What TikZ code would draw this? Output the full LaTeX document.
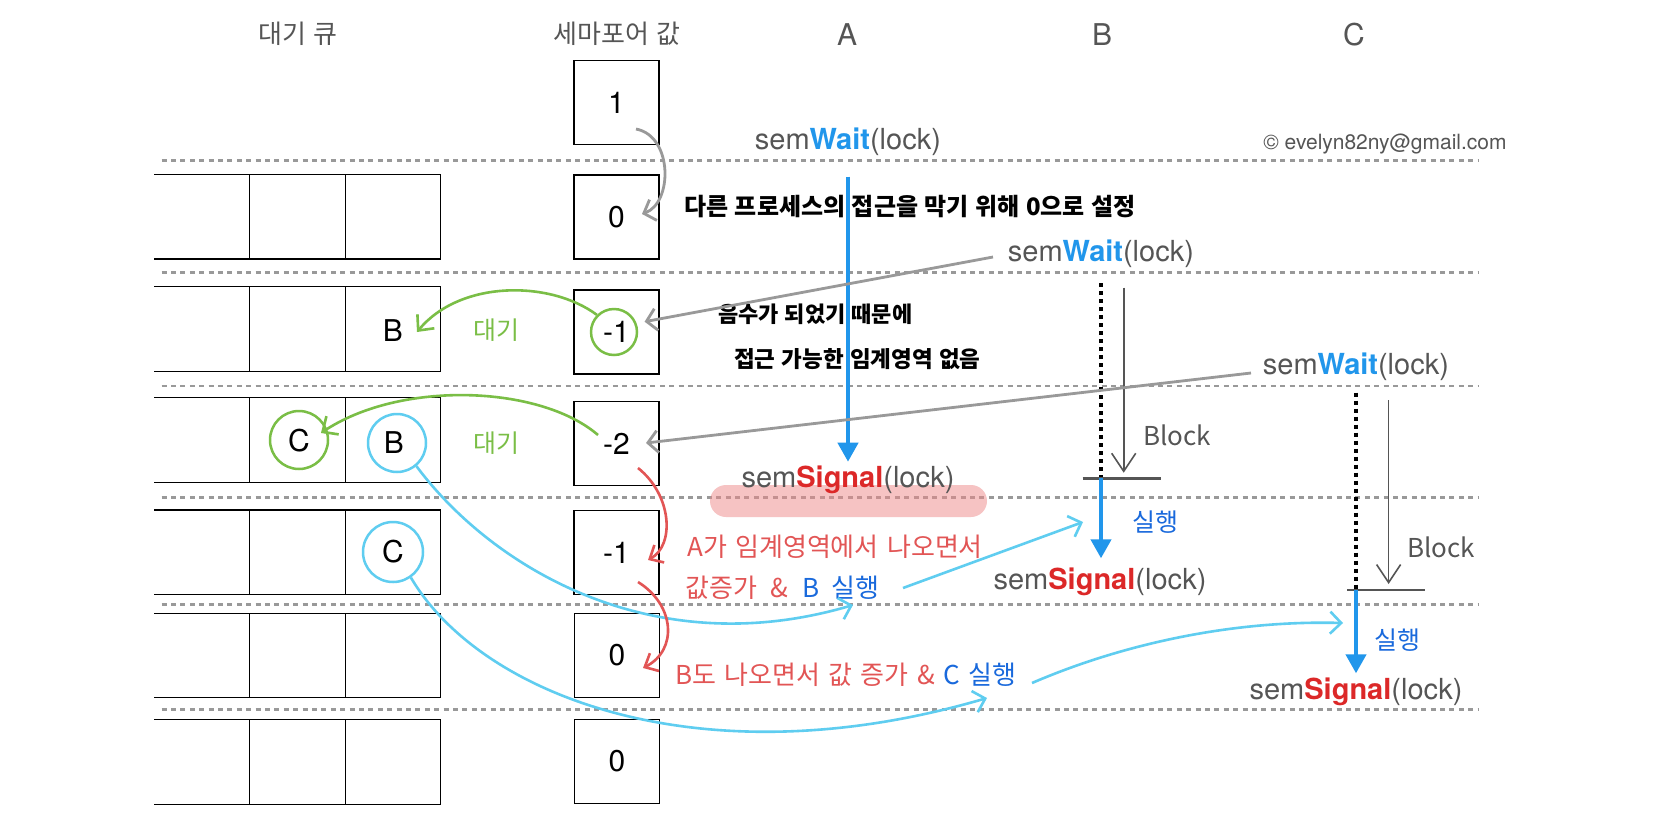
\documentclass[tikz,border=0pt]{standalone}
\usepackage{fontspec}
\setmainfont{TeX Gyre Heros}
\newfontfamily\kr{Noto Sans CJK KR}
\newfontfamily\hand[WordSpace=2.4]{Noto Sans CJK KR}
\newfontfamily\handn[WordSpace=1.2]{Noto Sans CJK KR}
\usetikzlibrary{arrows.meta}
\definecolor{tblue}{RGB}{33,150,235}
\definecolor{tred}{RGB}{220,40,40}
\definecolor{hred}{RGB}{226,85,85}
\definecolor{hblue}{RGB}{25,105,220}
\definecolor{hgreen}{RGB}{122,190,70}
\definecolor{hcyan}{RGB}{95,205,240}
\definecolor{dgray}{RGB}{153,153,153}
\definecolor{tgray}{RGB}{85,85,85}
\definecolor{pinkbg}{RGB}{239,137,137}
\begin{document}
\begin{tikzpicture}[x=1pt,y=-1pt,
  semtext/.style={inner sep=0pt, text=tgray, font=\fontsize{29}{32}\selectfont},
  sbox/.style={draw, line width=1.2pt, minimum width=85pt, minimum height=84pt, inner sep=0pt, font=\fontsize{30}{32}\selectfont},
  titletxt/.style={inner sep=0pt, text=tgray, font=\kr\fontsize{26}{28}\selectfont},
  ptitle/.style={inner sep=0pt, text=tgray, font=\fontsize{30}{32}\selectfont},
  copytxt/.style={inner sep=0pt, text=tgray, font=\fontsize{21}{24}\selectfont},
  qtext/.style={inner sep=0pt, font=\fontsize{30}{32}\selectfont},
  gcirc/.style={circle, draw=hgreen, line width=2.5pt, inner sep=0pt},
  ccirc/.style={circle, draw=hcyan, line width=2.5pt, inner sep=0pt},
  hblack/.style={inner sep=0pt, font=\handn\bfseries\fontsize{24}{26}\selectfont},
  rtxt/.style={inner sep=0pt, text=hred, font=\hand\fontsize{26}{28}\selectfont},
  gtxt/.style={inner sep=0pt, text=hgreen, font=\hand\fontsize{25}{27}\selectfont},
  runtxt/.style={inner sep=0pt, text=hblue, font=\hand\fontsize{25}{27}\selectfont},
  blocktxt/.style={inner sep=0pt, text=tgray, font=\hand\fontsize{26}{28}\selectfont},
  qline/.style={draw=black, line width=1.3pt},
  dline/.style={draw=dgray, line width=2.8pt, dash pattern=on 5pt off 4.4pt},
  dotline/.style={draw=black, line width=4pt, dash pattern=on 4pt off 4pt},
  bluearrow/.style={draw=tblue, line width=4.2pt, -{Triangle[length=19pt,width=20pt]}},
  grayarrow/.style={draw=dgray, line width=2.8pt, -{Straight Barb[length=10pt,width=22pt]}},
  blockarrow/.style={draw=tgray, line width=1.6pt, -{Straight Barb[length=18pt,width=24pt]}},
  barline/.style={draw=tgray, line width=2.8pt},
  greenarrow/.style={draw=hgreen, line width=2.6pt, -{Straight Barb[length=12pt,width=22pt]}},
  cyanarrow/.style={draw=hcyan, line width=2.6pt, -{Straight Barb[length=11pt,width=22pt]}},
  redarrow/.style={draw=hred, line width=2.6pt, -{Straight Barb[length=11pt,width=20pt]}}
]
\fill[white] (0,0) rectangle (1668,820);
\useasboundingbox (0,0) rectangle (1668,820);

% titles
\node[titletxt] (tq) at (298,34) {대기 큐};
\node[titletxt] (ts) at (617,34) {세마포어 값};
\node[ptitle] (tA) at (847,35) {A};
\node[ptitle] (tB) at (1102,35) {B};
\node[ptitle] (tC) at (1354,35) {C};
\node[copytxt] (cp) at (1385,144) {\textcopyright\ evelyn82ny@gmail.com};

% separators
\foreach \yy in {160.7,272.3,386,497.5,604.5,709.5}
  \draw[dline] (161.6,\yy) -- (1479,\yy);

% pink highlight
\fill[pinkbg, opacity=0.5, rounded corners=16pt] (710,485) rectangle (987,517);

% queue rows
\foreach \tt/\bb in {174.3/259, 286.7/371.7, 397.3/482.3, 510/594.3, 613.3/697.7, 719.3/804.3} {
  \draw[qline] (154,\tt) -- (440.6,\tt) -- (440.6,\bb) -- (154,\bb);
  \draw[qline] (249.6,\tt) -- (249.6,\bb) (345.5,\tt) -- (345.5,\bb);
}

% semaphore boxes
\node[sbox] (s1) at (616.5,102.7) {1};
\node[sbox] (s2) at (616.5,217) {0};
\node[sbox] (s3) at (616.5,332) {-1};
\node[sbox] (s4) at (616.5,443.7) {-2};
\node[sbox] (s5) at (616.5,552.5) {-1};
\node[sbox] (s6) at (617,655.4) {0};
\node[sbox] (s7) at (617,761.5) {0};

% queue letters and circles
\node[qtext] (qB3) at (393,331) {B};
\node[qtext] (qC4) at (299,441) {C};
\node[qtext] (qB4) at (394,443) {B};
\node[qtext] (qC5) at (393,552) {C};
\node[gcirc, minimum size=46pt] (gm1) at (614,332) {};
\node[gcirc, minimum size=58pt] (gC4) at (299,440) {};
\node[ccirc, minimum size=58pt] (cB4) at (397,443) {};
\node[ccirc, minimum size=60pt] (cC5) at (393,552) {};

% process A
\node[semtext] (wA) at (848,141.7) {sem\textcolor{tblue}{\bfseries Wait}(lock)};
\node[semtext] (sA) at (848,480) {sem\textcolor{tred}{\bfseries Signal}(lock)};
\coordinate (aTop) at (848,176.7);
\coordinate (aTip) at (848,461.7);
\draw[bluearrow] (aTop) -- (aTip);

% process B
\node[semtext] (wB) at (1101,253.3) {sem\textcolor{tblue}{\bfseries Wait}(lock)};
\node[semtext] (sB) at (1100,581.7) {sem\textcolor{tred}{\bfseries Signal}(lock)};
\coordinate (bTop) at (1101,283.3);
\coordinate (bBar) at (1101,478.3);
\coordinate (bTip) at (1101,558.3);
\coordinate (bGa) at (1123.7,287.7);
\coordinate (bGb) at (1123.7,472.7);
\coordinate (bL) at (1082.7,478.3);
\coordinate (bR) at (1161,478.3);
\draw[dotline] (bTop) -- (bBar);
\draw[blockarrow] (bGa) -- (bGb);
\draw[barline] (bL) -- (bR);
\draw[bluearrow] (bBar) -- (bTip);
\node[blocktxt] (bkB) at (1177,435) {Block};
\node[runtxt] (rB) at (1155,522) {실행};

% process C
\node[semtext] (wC) at (1356,366.7) {sem\textcolor{tblue}{\bfseries Wait}(lock)};
\node[semtext] (sC) at (1356,691.7) {sem\textcolor{tred}{\bfseries Signal}(lock)};
\coordinate (cTop) at (1356,392.7);
\coordinate (cBar) at (1356,590);
\coordinate (cTip) at (1356,673.3);
\coordinate (cGa) at (1388.6,400);
\coordinate (cGb) at (1388.6,584);
\coordinate (cL) at (1347,590);
\coordinate (cR) at (1425,590);
\draw[dotline] (cTop) -- (cBar);
\draw[blockarrow] (cGa) -- (cGb);
\draw[barline] (cL) -- (cR);
\draw[bluearrow] (cBar) -- (cTip);
\node[blocktxt] (bkC) at (1441,547) {Block};
\node[runtxt] (rC) at (1397,640) {실행};

% handwritten notes
\node[hblack] (n1) at (910,207) {다른 프로세스의 접근을 막기 위해 0으로 설정};
\node[hblack, anchor=west, font=\handn\bfseries\fontsize{22}{24}\selectfont] (n2) at (718,314) {음수가 되었기 때문에};
\node[hblack, anchor=west, font=\handn\bfseries\fontsize{22.5}{24}\selectfont] (n3) at (734,359) {접근 가능한 임계영역 없음};
\node[gtxt] (d1) at (496,330) {대기};
\node[gtxt] (d2) at (496,443) {대기};
\node[rtxt, anchor=west] (r1) at (687,547) {A가 임계영역에서 나오면서};
\node[rtxt, anchor=west] (r2) at (685,588) {값증가\hspace{14pt}\&\hspace{14pt}\textcolor{hblue}{B\hspace{12pt}실행}};
\node[rtxt, anchor=west] (r3) at (675,675) {B도 나오면서 값 증가 \& \textcolor{hblue}{C 실행}};

% gray connectors
\coordinate (g1s) at (636,129);
\coordinate (g1t) at (642,214);
\draw[grayarrow] (g1s) .. controls (673,136) and (673,203) .. (g1t);
\coordinate (gBs) at (993,257);
\coordinate (gBt) at (644.6,321.7);
\draw[grayarrow] (gBs) -- (gBt);
\coordinate (gCs) at (1251,373);
\coordinate (gCt) at (646,443);
\draw[grayarrow] (gCs) -- (gCt);

% green connectors
\coordinate (gr1t) at (417,332);
\draw[greenarrow] (gm1.135) .. controls (550,280) and (460,280) .. (gr1t);
\coordinate (gr2s) at (598,435);
\coordinate (gr2t) at (321,433);
\draw[greenarrow] (gr2s) .. controls (540,385) and (400,380) .. (gr2t);

% cyan connectors
\coordinate (cy1t) at (853,605);
\draw[cyanarrow] (cB4.-50) .. controls (490,565) and (650,665) .. (cy1t);
\coordinate (cy2s) at (903,588);
\coordinate (cy2t) at (1083,522);
\draw[cyanarrow] (cy2s) -- (cy2t);
\coordinate (cy3t) at (987,698);
\draw[cyanarrow] (cC5.-55) .. controls (480,695) and (700,782) .. (cy3t);
\coordinate (cy4s) at (1032,683);
\coordinate (cy4t) at (1343,623);
\draw[cyanarrow] (cy4s) .. controls (1120,645) and (1230,620) .. (cy4t);

% red connectors
\coordinate (rd1s) at (638,468);
\coordinate (rd1t) at (648,560);
\draw[redarrow] (rd1s) .. controls (672,495) and (675,545) .. (rd1t);
\coordinate (rd2s) at (638,582);
\coordinate (rd2t) at (643,668);
\draw[redarrow] (rd2s) .. controls (675,605) and (678,650) .. (rd2t);
\end{tikzpicture}
\end{document}
